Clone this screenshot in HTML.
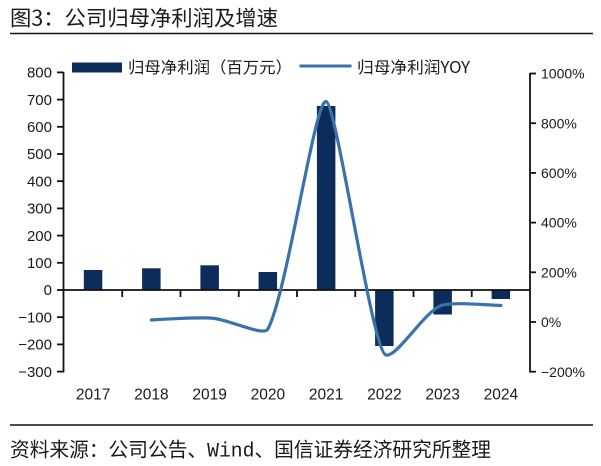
<!DOCTYPE html>
<html><head><meta charset="utf-8"><style>
html,body{margin:0;padding:0;background:#fff;}
svg{display:block;}
text{font-family:"Liberation Sans","Noto Sans CJK SC",sans-serif;fill:#1a1a1a;}
.cjk{font-family:"Noto Sans CJK SC","WenQuanYi Zen Hei",sans-serif;}
</style></head><body>
<svg width="601" height="466" viewBox="0 0 601 466" xmlns="http://www.w3.org/2000/svg">
<rect width="601" height="466" fill="#fff"/>
<!-- title -->
<text class="cjk" x="10" y="25.5" font-size="21" textLength="268" lengthAdjust="spacingAndGlyphs">图3：公司归母净利润及增速</text>
<line x1="10" y1="33.5" x2="593" y2="33.5" stroke="#111" stroke-width="1.6"/>
<!-- legend -->
<rect x="72" y="62.5" width="50" height="10" fill="#0c2d5a"/>
<text class="cjk" x="128" y="73" font-size="16" textLength="164" lengthAdjust="spacingAndGlyphs">归母净利润（百万元）</text>
<line x1="299.5" y1="66" x2="351.5" y2="66" stroke="#3b72a9" stroke-width="3"/>
<text class="cjk" x="357" y="73" font-size="16" textLength="113" lengthAdjust="spacingAndGlyphs">归母净利润YOY</text>
<!-- bars -->
<g fill="#0c2d5a">
<rect x="83.8" y="270" width="18.5" height="20"/>
<rect x="142.1" y="268.3" width="18.5" height="21.7"/>
<rect x="200.4" y="265.3" width="18.5" height="24.7"/>
<rect x="258.6" y="272" width="18.5" height="18"/>
<rect x="316.9" y="106" width="18.5" height="184"/>
<rect x="375.1" y="290" width="18.5" height="56"/>
<rect x="433.4" y="290" width="18.5" height="24.5"/>
<rect x="491.6" y="290" width="18.5" height="9"/>
</g>
<!-- axes -->
<g stroke="#111" stroke-width="1.8" fill="none">
<line x1="63.5" y1="72" x2="63.5" y2="372.5"/>
<line x1="530" y1="73" x2="530" y2="372.5"/>
<line x1="63.5" y1="290" x2="530" y2="290"/>
<!-- left ticks -->
<line x1="57" y1="72.4" x2="63.5" y2="72.4"/>
<line x1="57" y1="99.6" x2="63.5" y2="99.6"/>
<line x1="57" y1="126.8" x2="63.5" y2="126.8"/>
<line x1="57" y1="154" x2="63.5" y2="154"/>
<line x1="57" y1="181.2" x2="63.5" y2="181.2"/>
<line x1="57" y1="208.4" x2="63.5" y2="208.4"/>
<line x1="57" y1="235.6" x2="63.5" y2="235.6"/>
<line x1="57" y1="262.8" x2="63.5" y2="262.8"/>
<line x1="57" y1="290" x2="63.5" y2="290"/>
<line x1="57" y1="317.2" x2="63.5" y2="317.2"/>
<line x1="57" y1="344.4" x2="63.5" y2="344.4"/>
<line x1="57" y1="371.6" x2="63.5" y2="371.6"/>
<!-- right ticks -->
<line x1="530" y1="73.5" x2="536" y2="73.5"/>
<line x1="530" y1="123.2" x2="536" y2="123.2"/>
<line x1="530" y1="172.9" x2="536" y2="172.9"/>
<line x1="530" y1="222.6" x2="536" y2="222.6"/>
<line x1="530" y1="272.3" x2="536" y2="272.3"/>
<line x1="530" y1="322" x2="536" y2="322"/>
<line x1="530" y1="371.7" x2="536" y2="371.7"/>
<!-- x ticks -->
<line x1="122.25" y1="290" x2="122.25" y2="297"/>
<line x1="180.5" y1="290" x2="180.5" y2="297"/>
<line x1="238.75" y1="290" x2="238.75" y2="297"/>
<line x1="297" y1="290" x2="297" y2="297"/>
<line x1="355.25" y1="290" x2="355.25" y2="297"/>
<line x1="413.5" y1="290" x2="413.5" y2="297"/>
<line x1="471.75" y1="290" x2="471.75" y2="297"/>
</g>
<!-- left labels -->
<g font-size="15" text-anchor="end">
<text x="52" y="77.6">800</text>
<text x="52" y="104.8">700</text>
<text x="52" y="132">600</text>
<text x="52" y="159.2">500</text>
<text x="52" y="186.4">400</text>
<text x="52" y="213.6">300</text>
<text x="52" y="240.8">200</text>
<text x="52" y="268">100</text>
<text x="52" y="295.2">0</text>
<text x="52" y="322.4">−100</text>
<text x="52" y="349.6">−200</text>
<text x="52" y="376.8">−300</text>
</g>
<!-- right labels -->
<g font-size="14">
<text x="541" y="78.6">1000%</text>
<text x="541" y="128.3">800%</text>
<text x="541" y="178">600%</text>
<text x="541" y="227.7">400%</text>
<text x="541" y="277.4">200%</text>
<text x="541" y="327.1">0%</text>
<text x="541" y="376.8">−200%</text>
</g>
<!-- x labels -->
<g font-size="15.5" text-anchor="middle">
<text x="93.1" y="399.3">2017</text>
<text x="151.4" y="399.3">2018</text>
<text x="209.6" y="399.3">2019</text>
<text x="267.9" y="399.3">2020</text>
<text x="326.1" y="399.3">2021</text>
<text x="384.4" y="399.3">2022</text>
<text x="442.6" y="399.3">2023</text>
<text x="500.9" y="399.3">2024</text>
</g>
<!-- YOY line -->
<path d="M151.4,320 C165,319 195,317.5 209.6,318 C228,318.5 263.5,337.2 267.9,329 C287.3,292.8 315,98 326.1,101.5 C337,105 372,351.5 386,355 C397,358 425,310 442.6,305 C455,302 485,305 500.9,305.5" fill="none" stroke="#3b72a9" stroke-width="3.2" stroke-linecap="round" stroke-linejoin="round"/>
<!-- footer -->
<line x1="10" y1="425" x2="593" y2="425" stroke="#111" stroke-width="1.5"/>
<text class="cjk" x="10" y="456.5" font-size="20" textLength="481" lengthAdjust="spacingAndGlyphs">资料来源：公司公告、<tspan font-family="Liberation Mono">Wind</tspan>、国信证券经济研究所整理</text>
</svg>
</body></html>
